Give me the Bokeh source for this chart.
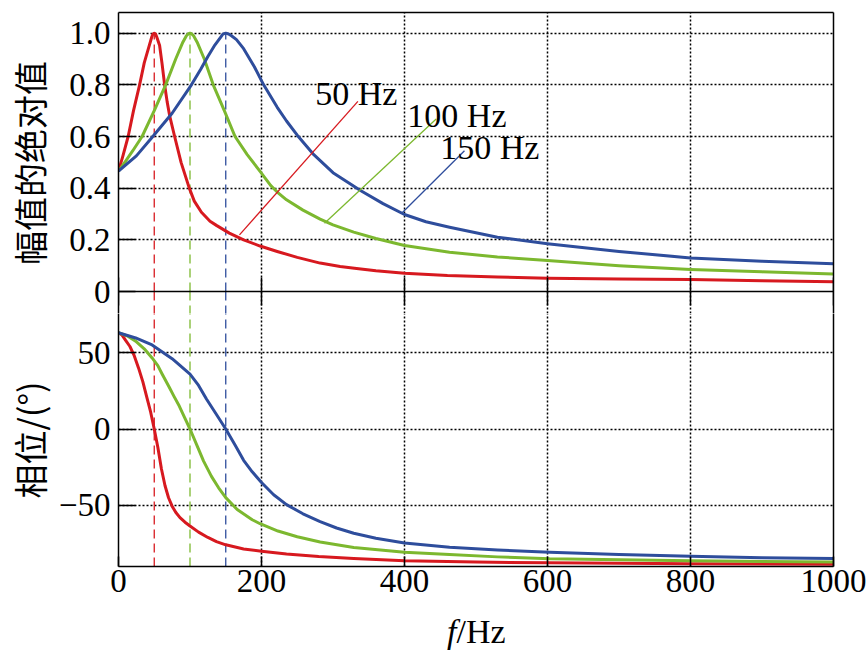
from bokeh.plotting import figure
from bokeh.layouts import column
from bokeh.models import Range1d, LinearAxis, FixedTicker, Grid, Div
from bokeh.embed import file_html
from bokeh.resources import INLINE
from bokeh.core.properties import value

# ---------------- data ----------------
series_names = ["50 Hz", "100 Hz", "150 Hz"]
res_freqs = [50, 100, 150]
peak_value = 1.0

red_mag_f = [0, 6, 13.5, 21, 29.5, 36, 43, 46.5, 48, 50, 52, 53.5, 57.5, 61, 64.5, 68, 71.5, 78.5,
             87.5, 99, 106, 116, 128, 137.5, 155, 175, 198, 222, 250, 282, 310, 330, 360, 400, 460,
             530, 600, 700, 800, 900, 1000]
red_mag = [0.466, 0.523, 0.60, 0.70, 0.80, 0.885, 0.952, 0.985, 0.996, 1.0, 0.996, 0.985, 0.952,
           0.88, 0.80, 0.735, 0.681, 0.60, 0.50, 0.40, 0.35, 0.307, 0.272, 0.255, 0.226, 0.20,
           0.176, 0.155, 0.132, 0.110, 0.097, 0.090, 0.080, 0.071, 0.062, 0.056, 0.051, 0.048,
           0.046, 0.042, 0.038]

green_mag_f = [0, 10, 20, 33, 50, 66, 80, 90, 95, 97.5, 100, 102.5, 105, 110, 120, 132.5, 148, 163,
               180, 198, 213, 222, 235, 258, 282, 300, 329, 360, 400, 463, 530, 600, 700, 800, 900,
               1000]
green_mag = [0.466, 0.505, 0.545, 0.60, 0.70, 0.80, 0.90, 0.965, 0.99, 0.997, 1.0, 0.997, 0.99,
             0.965, 0.90, 0.80, 0.70, 0.60, 0.53, 0.465, 0.41, 0.385, 0.355, 0.315, 0.28, 0.258,
             0.23, 0.205, 0.178, 0.152, 0.134, 0.12, 0.10, 0.085, 0.076, 0.068]

blue_mag_f = [0, 25, 48, 75, 102, 115, 125, 135, 143, 146, 150, 154, 158, 165, 175, 190, 203, 222,
              235, 250, 272, 300, 339, 370, 400, 430, 463, 530, 600, 700, 800, 900, 1000]
blue_mag = [0.466, 0.525, 0.60, 0.69, 0.80, 0.86, 0.91, 0.955, 0.985, 0.996, 1.0, 0.997, 0.99,
            0.975, 0.94, 0.87, 0.80, 0.713, 0.66, 0.605, 0.533, 0.46, 0.39, 0.34, 0.298, 0.27,
            0.249, 0.21, 0.185, 0.155, 0.130, 0.117, 0.107]

red_ph_f = [0, 5, 10, 16, 22, 28, 34, 40, 45, 50, 55, 60, 65, 70, 75, 80, 86, 93, 100, 112, 125,
            137, 150, 175, 200, 235, 280, 329, 400, 500, 600, 800, 1000]
red_ph = [63, 61.5, 58, 54, 48, 40, 31, 20, 11, 0, -12, -26, -37, -45, -50.5, -54.5, -58, -61,
          -63.5, -67.5, -71, -73.7, -75.8, -78.5, -80, -81.8, -83.5, -84.7, -86.2, -87.1, -87.6,
          -88.2, -88.5]

green_ph_f = [0, 12, 24, 36, 47, 55, 61, 71, 78, 85, 92, 100, 110, 119, 130, 140, 150, 166, 187,
              198, 223, 250, 282, 329, 400, 463, 530, 603, 800, 1000]
green_ph = [63, 61, 57.5, 52.5, 46.5, 41.5, 36, 27.3, 21, 15, 8, 0, -11, -21, -31, -38.5, -44.9,
            -52.7, -59.4, -62, -66.8, -70.5, -74, -77.6, -80.6, -82.2, -83.7, -85, -86.3, -87]

blue_ph_f = [0, 24, 47, 75, 100, 112, 123, 137, 150, 163, 175, 187, 200, 217, 235, 258, 282, 305,
             329, 360, 400, 463, 530, 603, 700, 800, 900, 1000]
blue_ph = [63, 59.6, 55, 46, 35.9, 28.5, 19.6, 9.5, 0, -10.5, -20.5, -28, -35, -43, -49.5, -55.5,
           -60.6, -64.8, -68.2, -71.5, -74.6, -77.4, -79.2, -80.6, -82.2, -83.3, -84.2, -84.8]

x_ticks = [0, 200, 400, 600, 800, 1000]
mag_ticks = [0, 0.2, 0.4, 0.6, 0.8, 1.0]
mag_tick_labels = ["0", "0.2", "0.4", "0.6", "0.8", "1.0"]
ph_ticks = [-50, 0, 50]
ph_tick_labels = ["\u221250", "0", "50"]

# annotation (label text + leader line) positions
label_x = [275, 404, 450]
label_y = [0.767, 0.681, 0.557]
leader_x0 = [334.8, 444.3, 483.9]
leader_y0 = [0.736, 0.668, 0.545]
leader_x1 = [169.2, 288.1, 396.4]
leader_y1 = [0.219, 0.264, 0.304]

# ---------------- layout / styling constants ----------------
colors = ["#D7191F", "#7CB82F", "#2E4D9C"]
SERIF = "Liberation Serif"
CJK = "Noto Sans CJK SC"
W = 866
LEFT, RIGHT = 118, 33
TOP_BORDER = 12
TOP_H, BOT_H = 279, 275      # pixel heights of the magnitude / phase panels
STRIP = 22                   # top strip of the phase panel drawn by the upper figure
BOT_BORDER = 42
MAG_MAX = 1.08
PH_MIN, PH_MAX = -90, 90

mag_px = TOP_H / MAG_MAX
ph_px = BOT_H / (PH_MAX - PH_MIN)
p1_mag_lo = -STRIP / mag_px
p1_ph_lo = PH_MAX - STRIP / ph_px
p1_ph_hi = PH_MAX + TOP_H / ph_px

dot = dict(grid_line_color="black", grid_line_dash="2 2", grid_line_width=1.5)


def blank_axis(**kw):
    return LinearAxis(ticker=FixedTicker(ticks=[]), major_tick_in=0, major_tick_out=0,
                      major_label_standoff=0, minor_tick_line_color=None,
                      axis_line_color="black", axis_line_width=1.5, **kw)


def style_fig(p):
    p.background_fill_color = "white"
    p.border_fill_color = "white"
    p.outline_line_color = None
    p.xgrid.ticker = FixedTicker(ticks=x_ticks)
    for k, v in dot.items():
        setattr(p.xgrid, k, v)
    for g in p.ygrid:
        g.visible = False


def style_yaxis(ax, ticks, labels, title, standoff):
    ax.ticker = FixedTicker(ticks=ticks)
    ax.major_label_overrides = dict(zip(ticks, labels))
    ax.axis_label = title
    ax.axis_label_text_font = CJK
    ax.axis_label_text_font_size = "34px"
    ax.axis_label_text_font_style = "normal"
    ax.axis_label_text_color = "black"
    ax.axis_label_standoff = standoff
    ax.major_label_text_font = SERIF
    ax.major_label_text_font_size = "33px"
    ax.major_label_text_color = "black"
    ax.major_label_standoff = 8
    ax.major_tick_in = 17
    ax.major_tick_out = 0
    ax.major_tick_line_width = 1.5
    ax.major_tick_line_color = "black"
    ax.minor_tick_line_color = None
    ax.axis_line_color = "black"
    ax.axis_line_width = 1.5


# ---------------- upper figure: magnitude ----------------
p1 = figure(width=W, height=TOP_BORDER + TOP_H + STRIP, x_range=Range1d(0, 1000),
            y_range=Range1d(p1_mag_lo, MAG_MAX), output_backend="svg", toolbar_location=None,
            x_axis_location=None, title=None, min_border_left=LEFT, min_border_right=RIGHT,
            min_border_top=TOP_BORDER, min_border_bottom=0)
p1.extra_y_ranges = {"phase": Range1d(p1_ph_lo, p1_ph_hi)}
style_fig(p1)
style_yaxis(p1.yaxis[0], mag_ticks, mag_tick_labels, "幅值的绝对值", 12)
p1.add_layout(blank_axis(), "above")
p1.add_layout(blank_axis(), "right")
# divider between the panels, with ticks up and down
p1.add_layout(LinearAxis(fixed_location=0, ticker=FixedTicker(ticks=x_ticks), major_tick_in=14,
                         major_tick_out=14, major_tick_line_width=1.5, major_tick_line_color="black",
                         axis_line_color="black", axis_line_width=1.5, minor_tick_line_color=None,
                         major_label_overrides={t: "" for t in x_ticks},
                         major_label_text_font_size="0px"), "below")
p1.add_layout(Grid(dimension=1, ticker=FixedTicker(ticks=mag_ticks[1:]), **dot))

p1.segment(x0=res_freqs, y0=[0] * 3, x1=res_freqs, y1=[peak_value] * 3,
           line_color=colors, line_dash="9 5", line_width=1.3)
p1.segment(x0=res_freqs, y0=[PH_MIN] * 3, x1=res_freqs, y1=[PH_MAX] * 3,
           line_color=colors, line_dash="9 5", line_width=1.3, y_range_name="phase")
for fx, fy, c in [(red_mag_f, red_mag, colors[0]), (green_mag_f, green_mag, colors[1]),
                  (blue_mag_f, blue_mag, colors[2])]:
    p1.line(fx, fy, line_color=c, line_width=3, line_join="round")
p1.segment(x0=leader_x0, y0=leader_y0, x1=leader_x1, y1=leader_y1, line_color=colors, line_width=1.3)
p1.text(x=label_x, y=label_y, text=series_names, text_font=value(SERIF), text_font_size="34px",
        text_color="black", text_align="left", text_baseline="alphabetic")

# ---------------- lower figure: phase ----------------
p2 = figure(width=W, height=BOT_H - STRIP + BOT_BORDER, x_range=p1.x_range,
            y_range=Range1d(PH_MIN, p1_ph_lo), output_backend="svg", toolbar_location=None,
            title=None, min_border_left=LEFT, min_border_right=RIGHT, min_border_top=0,
            min_border_bottom=BOT_BORDER)
style_fig(p2)
style_yaxis(p2.yaxis[0], ph_ticks, ph_tick_labels, "相位/(°)", 2)
p2.add_layout(blank_axis(), "right")
p2.add_layout(Grid(dimension=1, ticker=FixedTicker(ticks=ph_ticks), **dot))

xa = p2.below[0]
xa.ticker = FixedTicker(ticks=x_ticks)
xa.major_tick_in = 10
xa.major_tick_out = 0
xa.minor_tick_line_color = None
xa.axis_line_color = "black"
xa.axis_line_width = 1.5
xa.major_tick_line_color = "black"
xa.major_tick_line_width = 1.5
xa.major_label_text_font = SERIF
xa.major_label_text_font_size = "33px"
xa.major_label_text_color = "black"
xa.major_label_standoff = 3

p2.segment(x0=res_freqs, y0=[PH_MIN] * 3, x1=res_freqs, y1=[PH_MAX] * 3,
           line_color=colors, line_dash="9 5", line_width=1.3)
for fx, fy, c in [(red_ph_f, red_ph, colors[0]), (green_ph_f, green_ph, colors[1]),
                  (blue_ph_f, blue_ph, colors[2])]:
    p2.line(fx, fy, line_color=c, line_width=3, line_join="round")

# x axis title with italic f
xtitle = Div(text=("<div style=\"font-family:'Liberation Serif',serif;font-size:34px;"
                   "line-height:40px;padding:4px 0 0 447px;color:#000;white-space:nowrap\">"
                   "<i>f</i>/Hz</div>"),
             width=W, height=44, margin=0)

layout = column(p1, p2, xtitle, spacing=0)
open("out.html", "w").write(file_html(layout, INLINE))
